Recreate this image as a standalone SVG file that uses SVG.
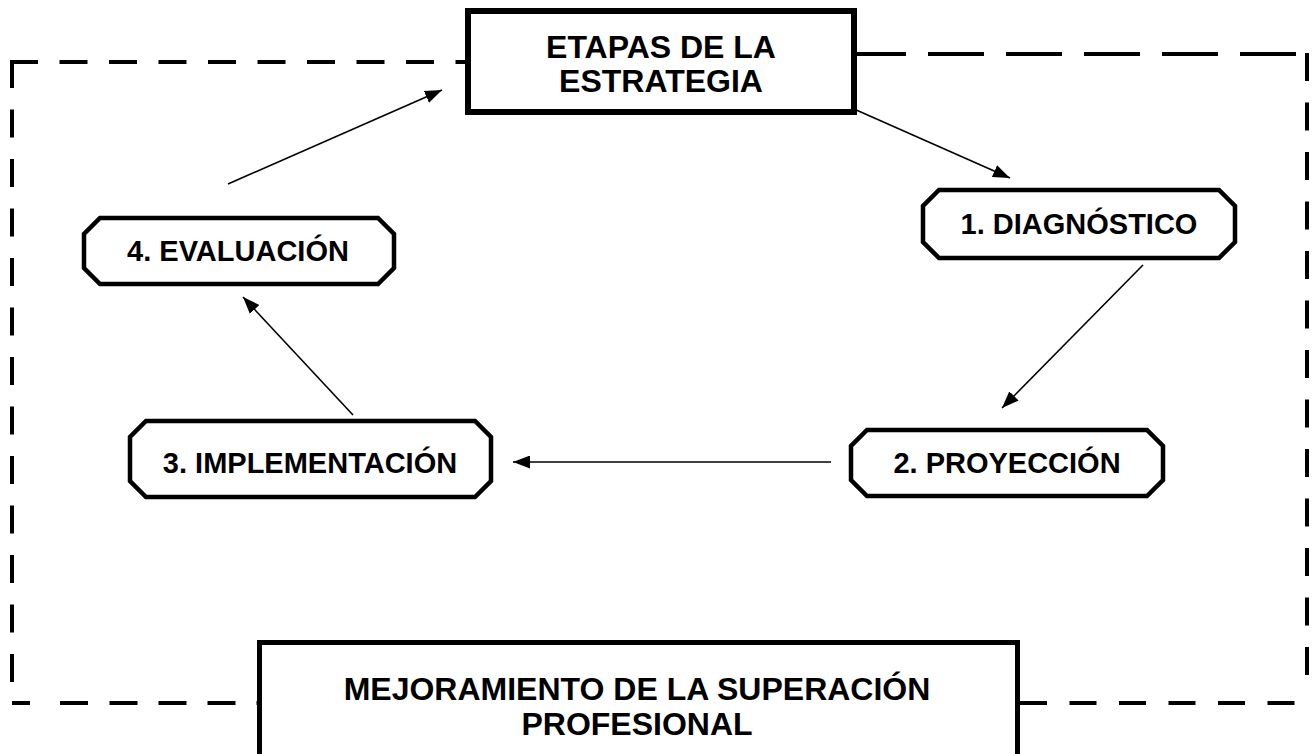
<svg xmlns="http://www.w3.org/2000/svg" width="1312" height="754" viewBox="0 0 1312 754">
<style>
.frame{fill:none;stroke:#000;stroke-width:4;stroke-dasharray:27 22.5}
.oct{fill:#fff;stroke:#000;stroke-width:4.5;stroke-linejoin:miter}
.box{fill:#fff;stroke:#000}
.lbl{font-family:"Liberation Sans",Arial,sans-serif;font-weight:bold;font-size:29px;fill:#000;text-anchor:middle}
.hdr{font-size:32px}
.conn{stroke:#000;stroke-width:1.6;fill:none;marker-end:url(#ah)}
</style>
<defs>
<marker id="ah" viewBox="0 0 17 13" refX="17" refY="6.5" markerWidth="17" markerHeight="13" markerUnits="userSpaceOnUse" orient="auto">
<path d="M0,0 L17,6.5 L0,13 z" fill="#000"/>
</marker>
</defs>
<g id="frame">
<line class="frame" x1="10" y1="62" x2="466" y2="62" style="stroke-dasharray:28 21.5"/>
<line class="frame" x1="850" y1="54" x2="1297" y2="54" style="stroke-dasharray:56 22"/>
<line class="frame" x1="12" y1="60" x2="12" y2="690" style="stroke-dasharray:28 21.5"/>
<line class="frame" x1="1307" y1="53" x2="1307" y2="680" style="stroke-dasharray:28 21.5"/>
<line class="frame" x1="12" y1="703" x2="258" y2="703" style="stroke-dasharray:18 30 28 21.5 28 21 28 21 28 21"/>
<line class="frame" x1="1020" y1="703" x2="1295" y2="703" style="stroke-dasharray:27 22.5"/>
</g>
<g id="connectors">
<line class="conn" x1="228" y1="184" x2="442" y2="90"/>
<line class="conn" x1="854" y1="109" x2="1010" y2="178"/>
<line class="conn" x1="1143" y1="265" x2="1002" y2="408"/>
<line class="conn" x1="831" y1="462" x2="513" y2="462"/>
<line class="conn" x1="353" y1="415" x2="243" y2="297"/>
</g>
<g id="n-etapas">
<rect class="box" x="468" y="11" width="386" height="101" stroke-width="6"/>
<text class="lbl hdr" x="661" y="58">ETAPAS DE LA</text>
<text class="lbl hdr" x="661" y="92">ESTRATEGIA</text>
</g>
<g id="n-diagnostico">
<polygon class="oct" points="939,190 1219,190 1235,206 1235,242 1219,258 939,258 923,242 923,206"/>
<text class="lbl" x="1079" y="234">1. DIAGNÓSTICO</text>
</g>
<g id="n-proyeccion">
<polygon class="oct" points="867,430 1147,430 1163,446 1163,480 1147,496 867,496 851,480 851,446"/>
<text class="lbl" x="1007" y="473">2. PROYECCIÓN</text>
</g>
<g id="n-implementacion">
<polygon class="oct" points="146,421 475,421 491,437 491,481 475,497 146,497 130,481 130,437"/>
<text class="lbl" x="310" y="473">3. IMPLEMENTACIÓN</text>
</g>
<g id="n-evaluacion">
<polygon class="oct" points="100,218 378,218 394,234 394,268 378,284 100,284 84,268 84,234"/>
<text class="lbl" x="238" y="261">4. EVALUACIÓN</text>
</g>
<g id="n-mejoramiento">
<rect class="box" x="259.5" y="642.5" width="758" height="120" stroke-width="5"/>
<text class="lbl hdr" x="637" y="700">MEJORAMIENTO DE LA SUPERACIÓN</text>
<text class="lbl hdr" x="637" y="735">PROFESIONAL</text>
</g>
</svg>
